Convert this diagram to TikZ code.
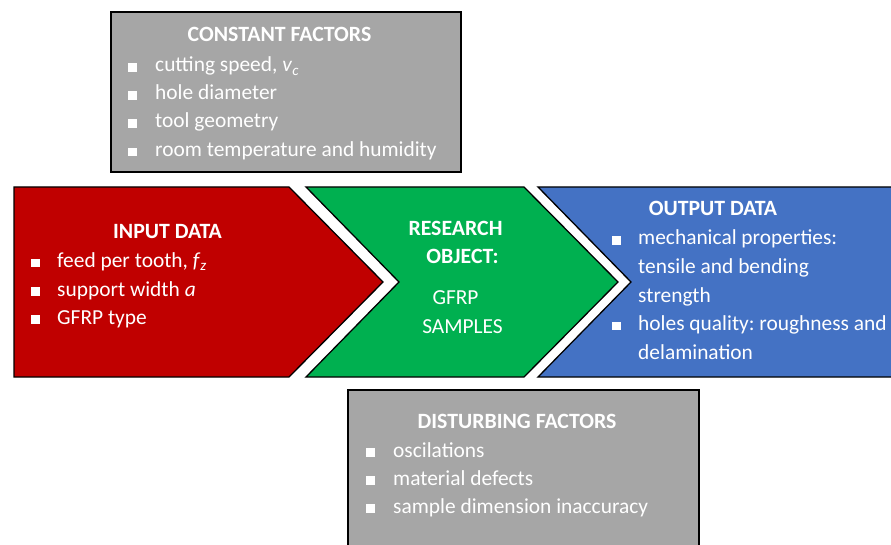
\documentclass[tikz,border=0pt]{standalone}
\usepackage{fontspec}
\setmainfont{Carlito}
\frenchspacing
\definecolor{boxgray}{HTML}{A6A6A6}
\definecolor{inred}{HTML}{C00000}
\definecolor{objgreen}{HTML}{00B050}
\definecolor{outblue}{HTML}{4472C4}
\begin{document}
\begin{tikzpicture}[x=1pt,y=-1pt,
  panel/.style={draw=black, line width=1.3pt, line join=miter},
  title/.style={anchor=base, text=white, font=\fontsize{21.8}{25}\selectfont\bfseries, inner sep=0pt},
  item/.style={anchor=base west, text=white, font=\fontsize{21.4}{25}\selectfont, inner sep=0pt},
  bul/.style={fill=white, inner sep=0pt, minimum size=8.5pt, anchor=south west}]
\useasboundingbox (0,0) rectangle (891,545);

% constant factors
\draw[panel, fill=boxgray] (111,12) rectangle (461,172);
\node[title] (ct) at (279.5,42) {CONSTANT FACTORS};
\node[bul] (cb1) at (128,72) {};
\node[item] (c1) at (155,72) {cutting speed, \textit{v}\textsubscript{\textit{c}}};
\node[bul] (cb2) at (128,100) {};
\node[item] (c2) at (155,100) {hole diameter};
\node[bul] (cb3) at (128,128) {};
\node[item] (c3) at (155,128) {tool geometry};
\node[bul] (cb4) at (128,156.5) {};
\node[item] (c4) at (155,156.5) {room temperature and humidity};

% input data chevron
\draw[panel, fill=inred] (14,187) -- (289,187) -- (383,282) -- (289,377) -- (14,377) -- cycle;
\node[title] (it) at (167.5,239) {INPUT DATA};
\node[bul] (ib1) at (31,267.5) {};
\node[item] (i1) at (57,267.5) {feed per tooth, \textit{f}\textsubscript{\textit{z}}};
\node[bul] (ib2) at (31,296) {};
\node[item] (i2) at (57,296) {support width \textit{a}};
\node[bul] (ib3) at (31,324) {};
\node[item] (i3) at (57,324) {GFRP type};

% research object chevron
\draw[panel, fill=objgreen] (306,187) -- (524,187) -- (618,282) -- (524,377) -- (306,377) -- (399,282) -- cycle;
\node[title] (rt1) at (455.5,236) {RESEARCH};
\node[title] (rt2) at (462.5,263.5) {OBJECT:};
\node[item, anchor=base] (r1) at (455.5,305) {GFRP};
\node[item, anchor=base] (r2) at (462.5,333) {SAMPLES};

% output data chevron
\draw[panel, fill=outblue] (538,187) -- (900,187) -- (900,377) -- (538,377) -- (631,282) -- cycle;
\node[title] (ot) at (713,216) {OUTPUT DATA};
\node[bul] (ob1) at (612,245) {};
\node[item] (o1) at (638,245) {mechanical properties:};
\node[item] (o2) at (638,273.5) {tensile and bending};
\node[item] (o3) at (638,302) {strength};
\node[bul] (ob2) at (612,330.5) {};
\node[item] (o4) at (638,330.5) {holes quality: roughness and};
\node[item] (o5) at (638,359) {delamination};

% disturbing factors
\draw[panel, fill=boxgray] (348,390) rectangle (699,560);
\node[title] (dt) at (517,428) {DISTURBING FACTORS};
\node[bul] (db1) at (366,457) {};
\node[item] (d1) at (393,457) {oscilations};
\node[bul] (db2) at (366,485) {};
\node[item] (d2) at (393,485) {material defects};
\node[bul] (db3) at (366,513) {};
\node[item] (d3) at (393,513) {sample dimension inaccuracy};
\end{tikzpicture}
\end{document}
